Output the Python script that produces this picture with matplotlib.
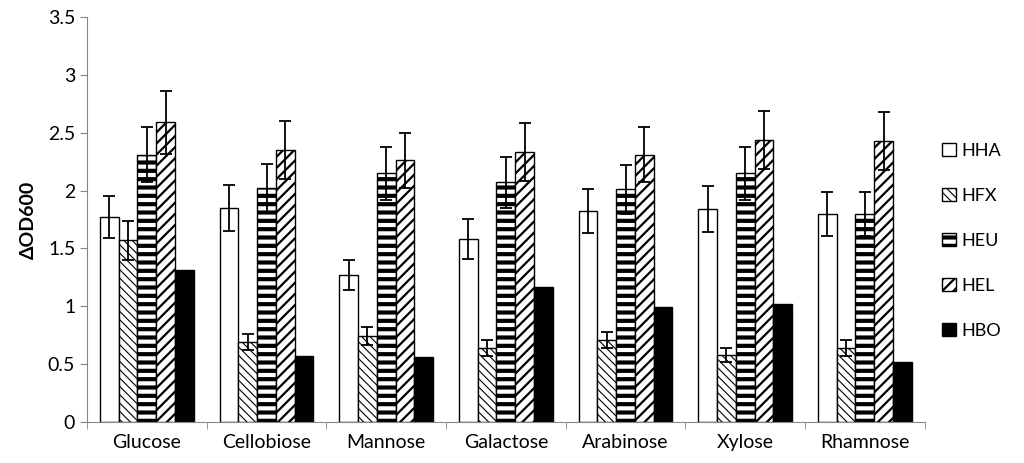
import matplotlib
matplotlib.use('Agg')
import matplotlib.pyplot as plt
import numpy as np

plt.rcParams['font.family'] = ['Lato', 'DejaVu Sans']
plt.rcParams['hatch.linewidth'] = 1.0

# data
sugars = ['Glucose', 'Cellobiose', 'Mannose', 'Galactose', 'Arabinose', 'Xylose', 'Rhamnose']
strains = ['HHA', 'HFX', 'HEU', 'HEL', 'HBO']

hha = [1.77, 1.85, 1.27, 1.58, 1.82, 1.84, 1.80]
hfx = [1.57, 0.69, 0.74, 0.64, 0.71, 0.58, 0.64]
heu = [2.31, 2.02, 2.15, 2.07, 2.01, 2.15, 1.80]
hel = [2.59, 2.35, 2.26, 2.33, 2.31, 2.44, 2.43]
hbo = [1.31, 0.57, 0.56, 1.17, 0.99, 1.02, 0.52]

hha_err = [0.18, 0.20, 0.13, 0.17, 0.19, 0.20, 0.19]
hfx_err = [0.17, 0.07, 0.08, 0.07, 0.07, 0.06, 0.07]
heu_err = [0.24, 0.21, 0.23, 0.22, 0.21, 0.23, 0.19]
hel_err = [0.27, 0.25, 0.24, 0.25, 0.24, 0.25, 0.25]

values = [hha, hfx, heu, hel, hbo]
errors = [hha_err, hfx_err, heu_err, hel_err, None]
hatches = ['', '\\\\\\\\', '--', '///', '']
hatch_lw = [1.0, 0.8, 3.0, 1.6, 1.0]
faces = ['white', 'white', 'white', 'white', 'black']

fig = plt.figure(figsize=(10.24, 4.63), dpi=100)
ax = fig.add_axes([0.085, 0.089, 0.818, 0.874])

x = np.arange(len(sugars))
w = 0.157
for i, name in enumerate(strains):
    pos = x + (i - 2) * w
    bars = ax.bar(pos, values[i], width=w, color=faces[i], edgecolor='black',
                  linewidth=1.0, hatch=hatches[i], label=name,
                  yerr=errors[i], capsize=4,
                  error_kw={'elinewidth': 1.3, 'capthick': 1.3, 'ecolor': 'black'})
    for p in bars.patches:
        if hasattr(p, 'set_hatch_linewidth'):
            p.set_hatch_linewidth(hatch_lw[i])

ax.set_xlim(-0.5, len(sugars) - 0.5)
ax.set_ylim(0, 3.5)
ax.set_yticks(np.arange(0, 3.51, 0.5))
ax.set_yticklabels(['0', '0.5', '1', '1.5', '2', '2.5', '3', '3.5'])
ax.set_xticks(x)
ax.set_xticklabels(sugars)
ax.set_xticks(np.arange(-0.5, len(sugars), 1), minor=True)
ax.tick_params(axis='x', which='major', length=0, pad=9, labelsize=14)
ax.tick_params(axis='x', which='minor', length=5, color='#868686')
ax.tick_params(axis='y', length=5, color='#868686', labelsize=14)

ax.set_ylabel('ΔOD600', fontsize=14, fontweight='bold', labelpad=8)

ax.spines['top'].set_visible(False)
ax.spines['right'].set_visible(False)
ax.spines['left'].set_color('#868686')
ax.spines['bottom'].set_color('#868686')

leg = ax.legend(loc='center left', bbox_to_anchor=(1.021, 0.447), frameon=False,
                fontsize=13, labelspacing=1.6, handlelength=0.75,
                handleheight=0.75, handletextpad=0.3, borderpad=0,
                borderaxespad=0)
for h, lw in zip(leg.legend_handles, hatch_lw):
    if hasattr(h, 'set_hatch_linewidth'):
        h.set_hatch_linewidth(lw)

plt.savefig('out.png', dpi=100)
